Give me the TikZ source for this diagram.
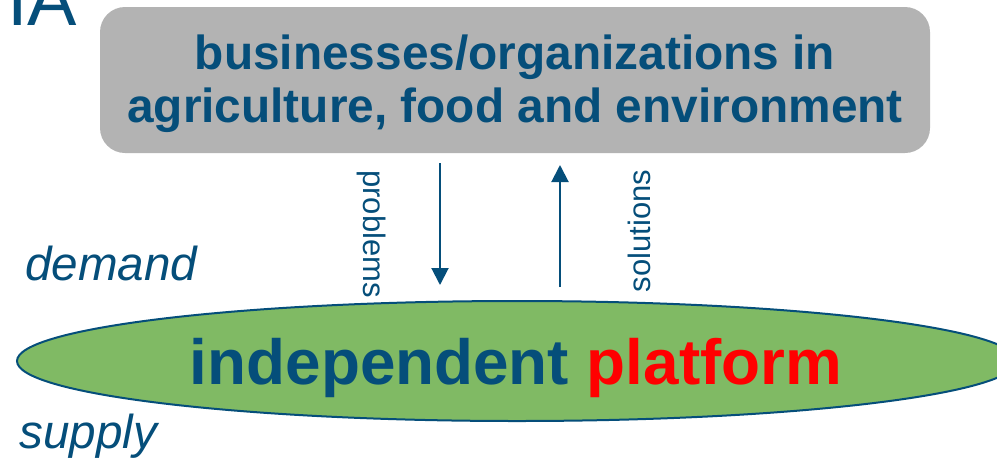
\documentclass[tikz,border=0pt]{standalone}
\usepackage{fontspec}
\setmainfont{Liberation Sans}
\usepackage{tikz}
\usetikzlibrary{shapes.geometric}
\usetikzlibrary{arrows.meta}
\usetikzlibrary{positioning}

\definecolor{darkblue}{RGB}{5,78,122}
\definecolor{boxgray}{RGB}{179,179,179}
\definecolor{leafgreen}{RGB}{128,186,100}

\begin{document}
\begin{tikzpicture}
        [x=0.5pt, y=-0.5pt,
         flow/.style={draw=darkblue, line width=1pt, -{Triangle[width=8.5pt,length=8.5pt]}},
         side/.style={darkblue, font=\fontsize{23.8}{28}\selectfont\itshape, inner sep=0pt, anchor=base west},
         vlabel/.style={darkblue, font=\fontsize{15.5}{18}\selectfont, inner sep=0pt}]
        \useasboundingbox (0,0) rectangle (997,462);
        \clip (0,0) rectangle (997,462);

        \node [anchor=base west, inner sep=0pt, darkblue, font=\fontsize{37}{42}\selectfont] (title) at (7,25) {IA};

        \node [fill=boxgray, rounded corners=12.5pt, minimum width=415pt, minimum height=73pt] (org) at (515,80) {};
        \node [align=center, inner sep=0pt, darkblue, font=\fontsize{23.9}{26.5}\selectfont\bfseries] (orgtext) at (515,84) {businesses/organizations in\\agriculture, food and environment};

        \node [ellipse, draw=darkblue, line width=1pt, fill=leafgreen, minimum width=500pt, minimum height=60pt, inner sep=0pt] (platform) at (517,361) {};
        \node [inner sep=0pt, darkblue, font=\fontsize{31.9}{36}\selectfont\bfseries] (platformtext) at (516,368) {independent \textcolor{red}{platform}};

        \node [side] (demand) at (25,280) {demand};
        \node [side] (supply) at (19,448) {supply};

        \coordinate (probstart) at (440,163);
        \coordinate (probend) at (440,285);
        \coordinate (solstart) at (560,287);
        \coordinate (solend) at (560,165);

        \draw [flow] (probstart) -- (probend);
        \draw [flow] (solstart) -- (solend);

        \node [vlabel, rotate=-90] (problems) at (372,234) {problems};
        \node [vlabel, rotate=90] (solutions) at (639,231) {solutions};
    \end{tikzpicture}
\end{document}
